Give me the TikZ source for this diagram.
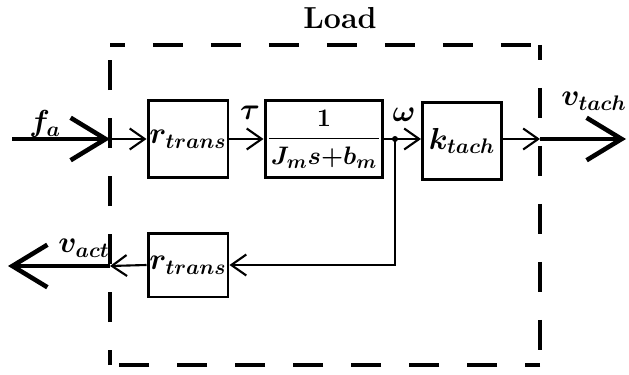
\documentclass[tikz,border=0pt]{standalone}
\usepackage{amsmath}
\usetikzlibrary{arrows.meta,positioning,calc}
\begin{document}
\begin{tikzpicture}[x=0.02cm,y=-0.02cm,
  blk/.style={draw, line width=1.7pt, inner sep=0pt, font=\LARGE\boldmath},
  sig/.style={line width=1.2pt, -{Straight Barb[length=0.3cm,width=0.42cm,line width=1.2pt]}},
  bigsig/.style={line width=2.6pt, -{Straight Barb[length=0.7cm,width=0.85cm,line width=2.6pt]}},
  lbl/.style={font=\LARGE\boldmath, inner sep=1pt},
  loadbox/.style={line width=2.4pt, dash pattern=on 0.6cm off 0.56cm, dash phase=0.3cm}]
\useasboundingbox (0,0) rectangle (629,375);

% dashed load boundary
\node[font=\LARGE\bfseries] (load) at (340,18) {Load};
\foreach \ax/\ay/\bx/\by in {110/45/540/45, 540/45/540/365, 540/365/110/365, 110/365/110/45}{
  \draw[loadbox] (\ax,\ay) -- (\bx,\by);
}

% blocks
\node[blk, minimum width=1.6cm, minimum height=1.56cm] (rtfwd) at (188,139) {$r_{trans}$};
\node[blk, font=\fontsize{15}{17}\selectfont\boldmath, minimum width=2.36cm, minimum height=1.56cm] (plant) at (324,139)
  {$\dfrac{\hbox to 2.2cm{\hfil$1$\hfil}}{J_m s{+}b_m}$};
\node[blk, minimum width=1.58cm, minimum height=1.54cm] (ktach) at (462,141) {$k_{tach}$};
\node[blk, minimum width=1.6cm, minimum height=1.28cm] (rtfb) at (188,265) {$r_{trans}$};

% connection points
\coordinate (fin) at (12,139);
\coordinate (lin) at (110,139);
\coordinate (junc) at (395,139);
\coordinate (lout) at (540,139);
\coordinate (fout) at (626,139);
\coordinate (lact) at (110,266);
\coordinate (fact) at (8,266);

% forward path
\draw[bigsig] (fin) -- (lin);
\draw[sig] (lin) -- (rtfwd.west);
\draw[sig] (rtfwd.east) -- (plant.west);
\draw[line width=1.2pt] (plant.east) -- (junc);
\draw[sig] (junc) -- (ktach.west |- junc);
\draw[sig] (ktach.east |- junc) -- (lout);
\draw[bigsig] (lout) -- (fout);
\fill (junc) circle (3);

% feedback path
\draw[sig] (junc) |- (rtfb.east);
\draw[sig] (rtfb.west) -- (lact);
\draw[bigsig] (lact) -- (fact);

% signal labels
\node[lbl] (fa) at (45,124) {$f_a$};
\node[lbl] (tau) at (250,113) {$\tau$};
\node[lbl] (omega) at (404,115) {$\omega$};
\node[lbl] (vtach) at (594,101) {$v_{tach}$};
\node[lbl] (vact) at (84,248) {$v_{act}$};
\end{tikzpicture}
\end{document}
